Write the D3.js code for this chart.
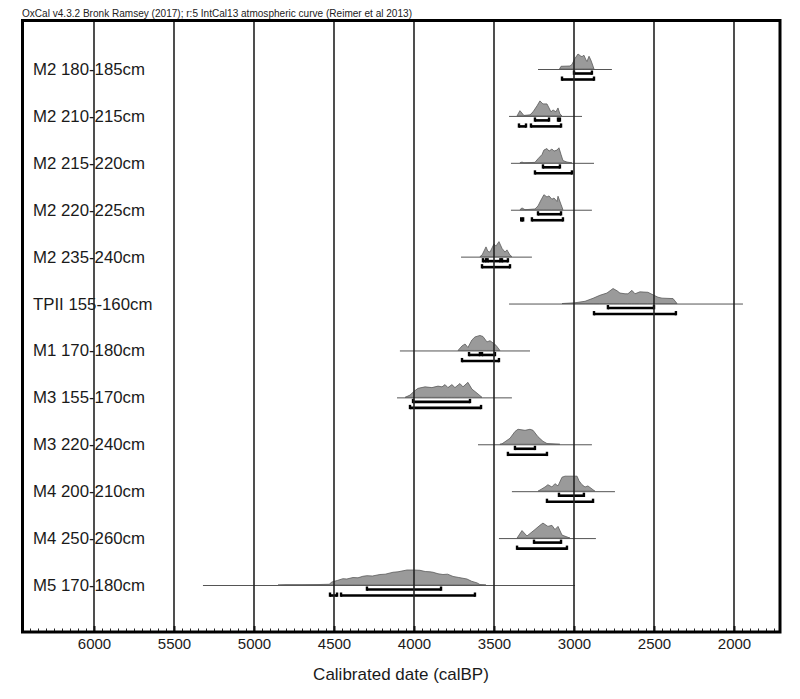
<!DOCTYPE html>
<html>
<head>
<meta charset="utf-8">
<script src="https://cdn.jsdelivr.net/npm/d3@7"></script>
<style>
  html, body { margin: 0; padding: 0; background: #fff; }
  svg { display: block; }
  text { font-family: "Liberation Sans", Arial, sans-serif; }
</style>
</head>
<body>
<svg id="chart" width="800" height="699"></svg>
<script>
// ---------------- DATA ----------------
const titleText = "OxCal v4.3.2 Bronk Ramsey (2017); r:5 IntCal13 atmospheric curve (Reimer et al 2013)";
const axisTitle = "Calibrated date (calBP)";
const tickValues = [6000, 5500, 5000, 4500, 4000, 3500, 3000, 2500, 2000];

const samples = ["M2 180-185cm", "M2 210-215cm", "M2 215-220cm", "M2 220-225cm", "M2 235-240cm",
  "TPII 155-160cm", "M1 170-180cm", "M3 155-170cm", "M3 220-240cm", "M4 200-210cm",
  "M4 250-260cm", "M5 170-180cm"];

// extent of the thin line drawn under each distribution (cal BP)
const lineExtents = [[3225, 2763], [3406, 2950], [3394, 2875], [3394, 2888], [3706, 3263],
  [3406, 1944], [4088, 3275], [4106, 3388], [3600, 2888], [3388, 2744], [3469, 2863], [5319, 2994]];

// probability distributions: [cal BP, relative density]
const distM2_180 = [[3090,0],[3081,18],[3025,20],[3013,30],[2994,70],[2975,100],[2960,88],[2950,82],[2938,92],[2925,60],[2919,50],[2906,85],[2895,60],[2888,40],[2875,0]];
const distM2_210 = [[3356,0],[3338,35],[3313,3],[3275,7],[3256,27],[3231,67],[3213,100],[3194,80],[3169,80],[3156,53],[3144,27],[3131,40],[3113,27],[3100,53],[3088,13],[3075,0]];
const distM2_215 = [[3338,0],[3325,5],[3313,0],[3244,3],[3225,27],[3200,55],[3188,85],[3169,95],[3156,78],[3138,92],[3125,78],[3106,85],[3094,100],[3081,55],[3069,15],[3044,5],[3013,0]];
const distM2_220 = [[3338,0],[3325,12],[3306,0],[3244,5],[3225,25],[3206,65],[3188,100],[3169,85],[3156,92],[3138,70],[3125,78],[3106,55],[3100,90],[3081,35],[3069,0]];
const distM2_235 = [[3588,0],[3575,10],[3550,65],[3538,35],[3525,30],[3500,85],[3488,70],[3469,100],[3450,55],[3431,30],[3419,45],[3400,10],[3388,0]];
const distTPII = [[3075,0],[2994,5],[2931,15],[2881,35],[2838,55],[2794,70],[2756,100],[2731,85],[2713,70],[2681,65],[2663,65],[2638,88],[2619,65],[2588,78],[2538,75],[2506,58],[2475,42],[2450,36],[2381,33],[2356,0]];
const distM1_170 = [[3725,0],[3700,30],[3681,43],[3663,20],[3638,70],[3619,90],[3588,100],[3569,93],[3544,57],[3525,65],[3506,50],[3488,35],[3463,0]];
const distM3_155 = [[4056,0],[4025,15],[4000,40],[3975,60],[3931,70],[3888,65],[3850,75],[3825,70],[3806,85],[3788,65],[3763,85],[3744,65],[3713,92],[3694,70],[3663,100],[3638,55],[3606,28],[3575,0]];
const distM3_220 = [[3463,0],[3450,3],[3400,40],[3369,85],[3350,100],[3306,93],[3275,100],[3256,93],[3225,50],[3194,20],[3169,5],[3088,0]];
const distM4_200 = [[3225,0],[3181,28],[3163,43],[3138,28],[3119,50],[3100,35],[3075,93],[3056,100],[2981,100],[2969,70],[2950,43],[2931,28],[2913,35],[2869,0]];
const distM4_250 = [[3356,0],[3325,50],[3294,14],[3244,57],[3213,85],[3194,100],[3163,78],[3138,85],[3119,57],[3100,78],[3075,20],[3025,0]];
const distM5_170 = [[4850,0],[4800,2],[4700,2],[4600,3],[4530,5],[4513,20],[4480,30],[4444,42],[4420,40],[4381,50],[4350,48],[4320,58],[4294,62],[4260,60],[4213,70],[4180,72],[4131,85],[4100,88],[4044,100],[4000,100],[3963,98],[3930,90],[3900,88],[3881,85],[3850,75],[3819,70],[3790,72],[3756,57],[3720,50],[3669,40],[3640,25],[3606,14],[3588,3],[3550,0]];
const distributions = [distM2_180, distM2_210, distM2_215, distM2_220, distM2_235, distTPII,
  distM1_170, distM3_155, distM3_220, distM4_200, distM4_250, distM5_170];

// 68.2% and 95.4% ranges (cal BP)
const ranges68 = [[[3000,2888]], [[3244,3156],[3100,3088]], [[3194,3088]], [[3225,3081]],
  [[3569,3550],[3540,3460],[3450,3413]], [[2788,2500]], [[3656,3588],[3575,3494]], [[4006,3650]],
  [[3369,3244]], [[3094,2938]], [[3250,3081]], [[4294,3831]]];
const ranges95 = [[[3075,2875]], [[3344,3300],[3269,3081]], [[3244,3013]], [[3330,3318],[3263,3069]],
  [[3575,3400]], [[2875,2363]], [[3700,3469]], [[4025,3581]],
  [[3413,3169]], [[3169,2881]], [[3356,3044]], [[4525,4481],[4456,3619]]];

// ---------------- LAYOUT ----------------
const svg = d3.select("#chart");
const frame = { left: 22.5, right: 780, top: 20.5, bottom: 632 };

const x = d3.scaleLinear().domain([6000, 2000]).range([94, 734]);
const yRow = d3.scalePoint().domain(samples).range([69, 585]);
const h = d3.scaleLinear().domain([0, 100]).range([0, 15]);

// header
svg.append("text").attr("x", 22).attr("y", 16.5)
  .attr("font-size", 10).attr("textLength", 390).attr("lengthAdjust", "spacingAndGlyphs")
  .attr("fill", "#222").text(titleText);

const plot = svg.append("g");

samples.forEach((s, i) => {
  const base = yRow(s);
  const g = plot.append("g");
  // label
  g.append("text").attr("x", 33).attr("y", base + 6)
    .attr("font-size", 16.8).attr("fill", "#1a1a1a").text(s);
  // thin line
  g.append("line")
    .attr("x1", x(lineExtents[i][0])).attr("x2", x(lineExtents[i][1]))
    .attr("y1", base + 0.5).attr("y2", base + 0.5)
    .attr("stroke", "#555").attr("stroke-width", 1);
  // distribution
  const area = d3.area().x(d => x(d[0])).y0(base).y1(d => base - h(d[1]));
  g.append("path").datum(distributions[i]).attr("d", area)
    .attr("fill", "#9a9a9a").attr("stroke", "#5a5a5a").attr("stroke-width", 0.8);
  // ranges
  const drawRange = (rs, yy) => {
    rs.forEach(r => {
      const xa = x(r[0]), xb = x(r[1]);
      g.append("line").attr("x1", xa).attr("x2", xb).attr("y1", yy).attr("y2", yy)
        .attr("stroke", "#000").attr("stroke-width", 2.6);
      [xa, xb].forEach(xx => {
        g.append("rect").attr("x", xx - 1.2).attr("y", yy - 3).attr("width", 2.4).attr("height", 4.3)
          .attr("fill", "#000");
      });
    });
  };
  drawRange(ranges68[i], base + 4.5);
  drawRange(ranges95[i], base + 10.5);
});

// grid lines (drawn over marks)
svg.append("g").selectAll("line").data(tickValues).join("line")
  .attr("x1", d => x(d)).attr("x2", d => x(d))
  .attr("y1", frame.top).attr("y2", frame.bottom)
  .attr("stroke", "#222").attr("stroke-width", 1.6);

// minor ticks
const minor = d3.range(1750, 6451, 50).filter(v => x(v) > frame.left + 2 && x(v) < frame.right - 2);
const minorAxis = svg.append("g").attr("transform", `translate(0,${frame.bottom})`)
  .call(d3.axisBottom(x).tickValues(minor).tickSize(-3.5).tickFormat(""));
minorAxis.select(".domain").remove();
minorAxis.selectAll("line").attr("stroke", "#222").attr("stroke-width", 1);

// major ticks + labels
const majorAxis = svg.append("g").attr("transform", `translate(0,${frame.bottom})`)
  .call(d3.axisBottom(x).tickValues(tickValues).tickSize(-6).tickPadding(6.5).tickFormat(d3.format("d")));
majorAxis.select(".domain").remove();
majorAxis.selectAll("line").attr("stroke", "#111").attr("stroke-width", 2);
majorAxis.selectAll("text").attr("font-size", 15).attr("fill", "#1a1a1a")
  .attr("font-family", "'Liberation Sans', Arial, sans-serif");

// frame
svg.append("rect").attr("x", frame.left).attr("y", frame.top)
  .attr("width", frame.right - frame.left).attr("height", frame.bottom - frame.top)
  .attr("fill", "none").attr("stroke", "#000").attr("stroke-width", 3);

// axis title
svg.append("text").attr("x", 401).attr("y", 680).attr("text-anchor", "middle")
  .attr("font-size", 17).attr("fill", "#1a1a1a").text(axisTitle);
</script>
</body>
</html>
